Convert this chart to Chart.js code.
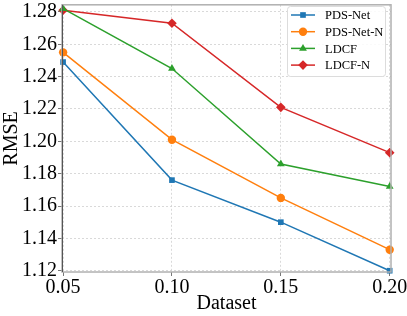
<!DOCTYPE html>
<html>
<head>
<meta charset="utf-8">
<script src="https://cdn.jsdelivr.net/npm/chart.js@4"></script>
<style>
  html, body { margin: 0; padding: 0; background: #fff; }
  #wrap { width: 407px; height: 316px; }
</style>
</head>
<body>
<div id="wrap"><canvas id="rmseChart" width="407" height="316"></canvas></div>
<script>
// Sampling ratio on the x axis
const ratios = [0.05, 0.10, 0.15, 0.20];
const xTicks = [0.05, 0.10, 0.15, 0.20];
const yTicks = [1.12, 1.14, 1.16, 1.18, 1.20, 1.22, 1.24, 1.26, 1.28];

// RMSE per method
const pdsNet = [1.249, 1.176, 1.150, 1.120];
const pdsNetN = [1.255, 1.201, 1.165, 1.133];
const ldcf = [1.282, 1.245, 1.186, 1.172];
const ldcfN = [1.281, 1.273, 1.221, 1.193];

const seriesNames = ["PDS-Net", "PDS-Net-N", "LDCF", "LDCF-N"];
const seriesValues = [pdsNet, pdsNetN, ldcf, ldcfN];
const colors = ["#1f77b4", "#ff7f0e", "#2ca02c", "#d62728"];
const markers = ["rect", "circle", "triangle", "rectRot"];
const radii = [4, 4.2, 4.5, 4.8];

const FONT = "'Liberation Serif', 'Times New Roman', serif";

// frame around the plot + matplotlib-style legend inside the plot
const frameAndLegend = {
  id: "frameAndLegend",
  afterDatasetsDraw(chart) {
    const { ctx, chartArea: a } = chart;
    ctx.save();
    ctx.strokeStyle = "#b0b0b0";
    ctx.lineWidth = 1.5;
    ctx.strokeRect(a.left, a.top, a.right - a.left, a.bottom - a.top);
    ctx.strokeStyle = "#555";
    ctx.lineWidth = 1;
    ctx.beginPath();
    ctx.moveTo(a.left + 0.5, a.top);
    ctx.lineTo(a.left + 0.5, a.bottom);
    ctx.stroke();

    // legend box
    const bx = 287, by = 6, bw = 98, bh = 70;
    ctx.fillStyle = "rgba(255,255,255,0.85)";
    ctx.strokeStyle = "#dcdcdc";
    ctx.lineWidth = 1;
    ctx.beginPath();
    ctx.roundRect(bx + 0.5, by + 0.5, bw, bh, 3);
    ctx.fill();
    ctx.stroke();
    ctx.font = "12.5px " + FONT;
    ctx.textBaseline = "middle";
    chart.data.datasets.forEach((ds, i) => {
      const y = by + 9 + i * 16.7;
      ctx.strokeStyle = ds.borderColor;
      ctx.lineWidth = 1.5;
      ctx.beginPath();
      ctx.moveTo(bx + 4, y);
      ctx.lineTo(bx + 28, y);
      ctx.stroke();
      ctx.fillStyle = ds.borderColor;
      Chart.helpers.drawPoint(ctx, {
        pointStyle: ds.pointStyle,
        radius: ds.pointRadius,
        borderWidth: 0
      }, bx + 16, y);
      ctx.fillStyle = "#000";
      ctx.fillText(ds.label, bx + 38, y + 1);
    });
    ctx.restore();
  }
};

const datasets = seriesNames.map((name, i) => ({
  label: name,
  data: ratios.map((x, j) => ({ x: x, y: seriesValues[i][j] })),
  borderColor: colors[i],
  backgroundColor: colors[i],
  pointStyle: markers[i],
  pointRadius: radii[i],
  pointBorderWidth: 0,
  borderWidth: 1.5,
  showLine: true,
  clip: false
}));

new Chart(document.getElementById("rmseChart"), {
  type: "scatter",
  data: { datasets: datasets },
  plugins: [frameAndLegend],
  options: {
    responsive: false,
    animation: false,
    layout: { padding: { left: 0, right: 16, top: 0, bottom: 0 } },
    plugins: { legend: { display: false }, tooltip: { enabled: false } },
    scales: {
      x: {
        type: "linear",
        min: 0.0495,
        max: 0.2006,
        afterBuildTicks: (s) => { s.ticks = xTicks.map((v) => ({ value: v })); },
        afterFit: (s) => { s.paddingLeft = 0; s.paddingRight = 0; s.height = 44; },
        ticks: {
          font: { family: FONT, size: 20 },
          color: "#000",
          padding: 0,
          maxRotation: 0,
          autoSkip: false,
          callback: (v) => v.toFixed(2)
        },
        grid: { color: "#d0d0d0", lineWidth: 0.8, tickLength: 4, tickColor: "#555" },
        border: { display: false, dash: [2, 2] },
        title: { display: true, text: "Dataset", font: { family: FONT, size: 20 }, color: "#000", padding: { top: 0, bottom: 0 } }
      },
      y: {
        min: 1.1192,
        max: 1.2844,
        afterBuildTicks: (s) => { s.ticks = yTicks.map((v) => ({ value: v })); },
        afterFit: (s) => { s.paddingTop = 0; s.paddingBottom = 0; s.width = 62; },
        ticks: {
          font: { family: FONT, size: 20 },
          color: "#000",
          padding: 1,
          autoSkip: false,
          callback: (v) => v.toFixed(2)
        },
        grid: { color: "#d0d0d0", lineWidth: 0.8, tickLength: 4, tickColor: "#555" },
        border: { display: false, dash: [2, 2] },
        title: { display: true, text: "RMSE", font: { family: FONT, size: 20 }, color: "#000", padding: { top: 0, bottom: 0 } }
      }
    }
  }
});
</script>
</body>
</html>
